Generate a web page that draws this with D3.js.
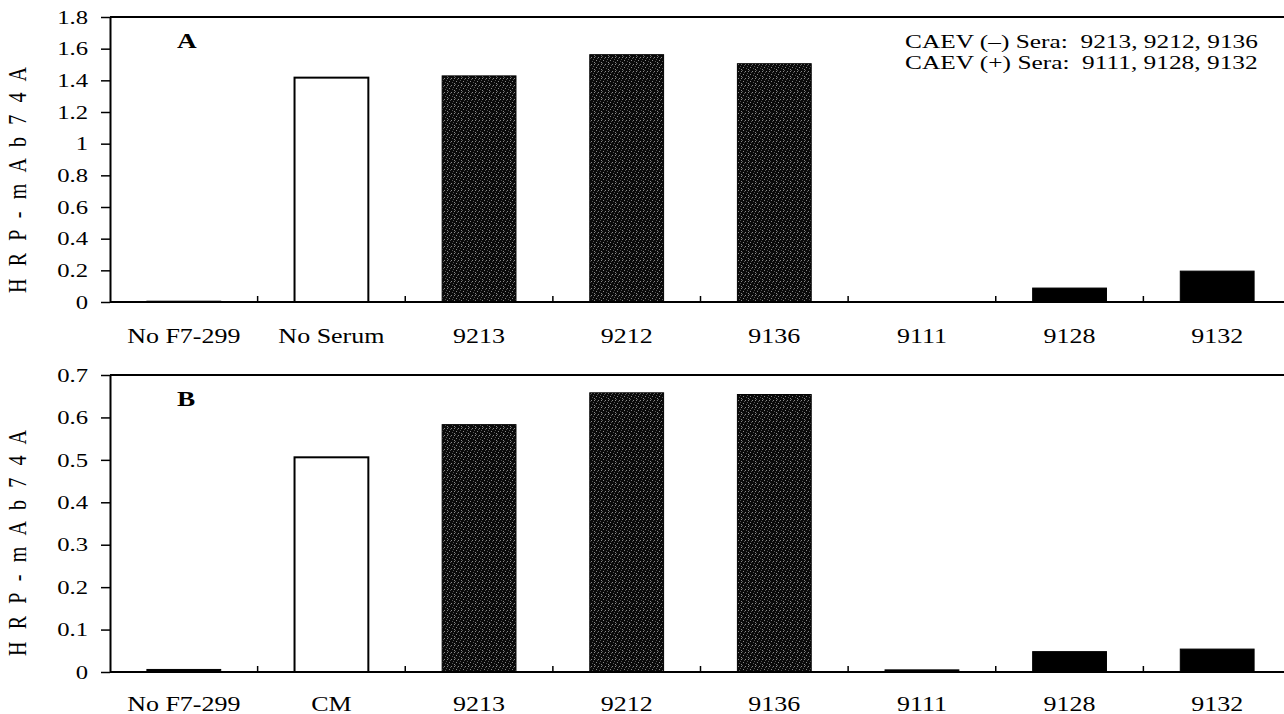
<!DOCTYPE html>
<html>
<head>
<meta charset="utf-8">
<script src="https://cdn.jsdelivr.net/npm/d3@7"></script>
<style>
  html, body { margin: 0; padding: 0; background: #fff; }
  svg { display: block; }
  svg text { font-family: "Liberation Serif", "DejaVu Serif", serif !important; fill: #000; white-space: pre; }
</style>
</head>
<body>
<svg id="chart" width="1284" height="714"></svg>
<script>
// ---- data ----
const categoriesA = ["No F7-299", "No Serum", "9213", "9212", "9136", "9111", "9128", "9132"];
const valuesA = [0.005, 1.417, 1.428, 1.562, 1.505, 0, 0.088, 0.195];
const categoriesB = ["No F7-299", "CM", "9213", "9212", "9136", "9111", "9128", "9132"];
const valuesB = [0.006, 0.506, 0.583, 0.658, 0.654, 0.005, 0.048, 0.054];
// bar kind per category: "open" = white, "sera" = dark textured, "pos" = black
const kinds = ["pos", "open", "sera", "sera", "sera", "pos", "pos", "pos"];
const ticksA = [0, 0.2, 0.4, 0.6, 0.8, 1, 1.2, 1.4, 1.6, 1.8];
const ticksB = [0, 0.1, 0.2, 0.3, 0.4, 0.5, 0.6, 0.7];
const yLabel = "H R P - m A b 7 4 A";
const legendLines = ["CAEV (\u2013) Sera:  9213, 9212, 9136", "CAEV (+) Sera:  9111, 9128, 9132"];

const svg = d3.select("#chart");
const SX = 1.3; // horizontal stretch of the original typesetting
const FONT = '"Liberation Serif", "DejaVu Serif", serif';

// speckled pattern for CAEV(-) bars
const defs = svg.append("defs");
const pat = defs.append("pattern").attr("id", "speckle")
  .attr("width", 7).attr("height", 7).attr("patternUnits", "userSpaceOnUse");
pat.append("rect").attr("width", 7).attr("height", 7).attr("fill", "#0a0a0a");
[[0,0],[3,1],[5,3],[1,4],[4,5],[6,6],[2,2],[6,1]].forEach(([px, py], i) => {
  pat.append("rect").attr("x", px).attr("y", py).attr("width", 1).attr("height", 1)
    .attr("fill", i % 2 ? "#8a8a8a" : "#555");
});

const xLeft = 110, xRight = 1291;

function panel(cats, vals, ticks, yMax, top, bottom, letter, labelBase, yLabelCenter) {
  const x = d3.scaleBand().domain(cats).range([xLeft, xRight]).paddingInner(0.5).paddingOuter(0.25);
  const y = d3.scaleLinear().domain([0, yMax]).range([bottom, top]);
  const g = svg.append("g");

  // bars
  g.selectAll("rect.bar").data(cats).enter().append("rect")
    .attr("class", "bar")
    .attr("x", d => x(d))
    .attr("width", x.bandwidth())
    .attr("y", (d, i) => y(vals[i]))
    .attr("height", (d, i) => Math.max(0, y(0) - y(vals[i])))
    .attr("fill", (d, i) => kinds[i] === "open" ? "#fff" : kinds[i] === "sera" ? "url(#speckle)" : "#000")
    .attr("stroke", (d, i) => vals[i] > 0 ? "#000" : "none")
    .attr("stroke-width", (d, i) => kinds[i] === "open" ? 2 : 1);

  // frame top line
  g.append("line").attr("x1", xLeft).attr("x2", 1284).attr("y1", top).attr("y2", top)
    .attr("stroke", "#000").attr("stroke-width", 2);

  // y axis
  const yAxis = d3.axisLeft(y).tickValues(ticks).tickSize(9).tickSizeOuter(0)
    .tickFormat(d => String(+d.toFixed(1)));
  const ya = g.append("g").attr("transform", `translate(${xLeft},0)`).call(yAxis)
    .attr("font-family", null).attr("font-size", null);
  ya.select(".domain").attr("stroke", "#000").attr("stroke-width", 2);
  ya.selectAll(".tick line").attr("stroke", "#000").attr("stroke-width", 1.5);
  ya.selectAll(".tick text")
    .style("font-family", FONT)
    .style("font-size", "19px")
    .attr("x", -22 / SX)
    .attr("dy", "0.33em")
    .attr("transform", `scale(${SX},1)`);

  // x axis line and boundary ticks
  g.append("line").attr("x1", xLeft).attr("x2", 1284).attr("y1", y(0)).attr("y2", y(0))
    .attr("stroke", "#000").attr("stroke-width", 2);
  const boundaries = cats.slice(1).map((c, i) => (x(cats[i]) + x.bandwidth() + x(c)) / 2);
  g.selectAll("line.xt").data(boundaries).enter().append("line")
    .attr("x1", d => d).attr("x2", d => d)
    .attr("y1", y(0)).attr("y2", y(0) - 6)
    .attr("stroke", "#000").attr("stroke-width", 1.5);

  // category labels
  g.selectAll("text.cat").data(cats).enter().append("text")
    .attr("class", "cat")
    .attr("transform", d => `translate(${x(d) + x.bandwidth() / 2},${labelBase}) scale(${SX},1)`)
    .attr("text-anchor", "middle")
    .style("font-size", "20px")
    .text(d => d);

  // panel letter
  g.append("text")
    .attr("transform", `translate(177,${top + 31}) scale(${SX},1)`)
    .style("font-size", "21px").style("font-weight", "bold")
    .text(letter);

  // y label
  g.append("text")
    .attr("transform", `translate(26,${yLabelCenter}) scale(${SX},1) rotate(-90)`)
    .attr("text-anchor", "middle")
    .style("font-size", "20px")
    .attr("textLength", 226)
    .attr("lengthAdjust", "spacing")
    .text(yLabel);
  return g;
}

panel(categoriesA, valuesA, ticksA, 1.8, 17, 302, "A", 343, 180);
panel(categoriesB, valuesB, ticksB, 0.7, 375, 672, "B", 711, 543);

// legend
svg.selectAll("text.leg").data(legendLines).enter().append("text")
  .attr("class", "leg")
  .attr("transform", (d, i) => `translate(905,${48 + i * 21}) scale(${SX},1)`)
  .style("font-size", "19.5px")
  .text(d => d);
</script>
</body>
</html>
